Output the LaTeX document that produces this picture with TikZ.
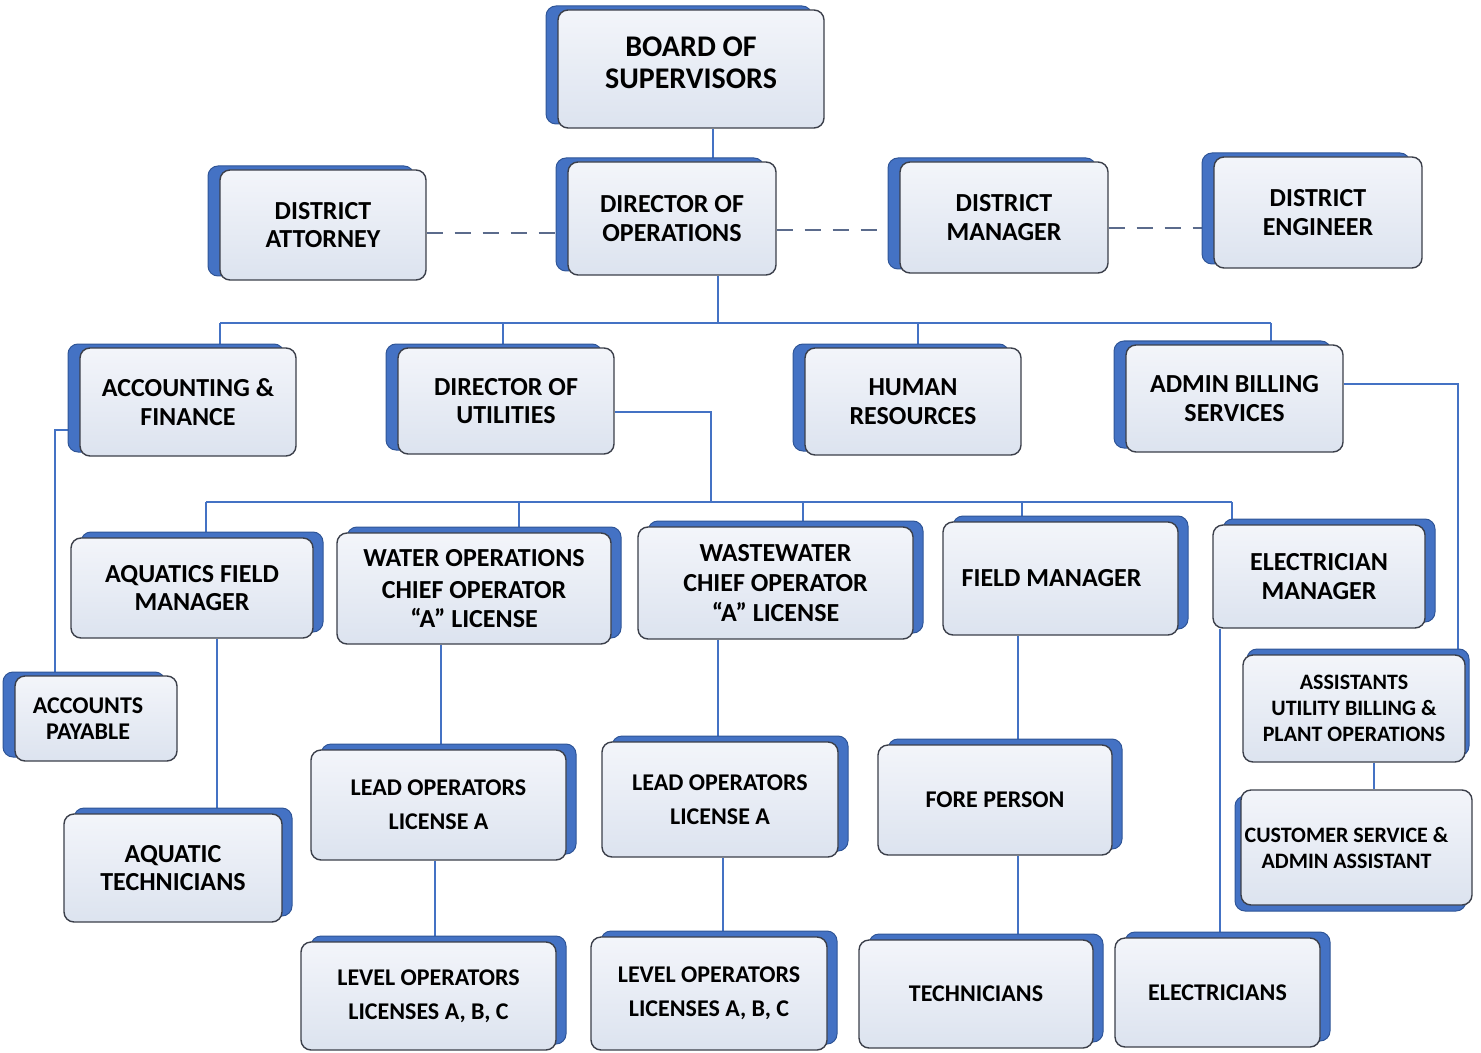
\documentclass[tikz,border=0pt]{standalone}
\usepackage{fontspec}
\setmainfont{Carlito}
\usetikzlibrary{shadows,backgrounds}
\definecolor{bl}{HTML}{4472C4}
\definecolor{bldk}{HTML}{2F5597}
\definecolor{edge}{HTML}{3B3F4A}
\definecolor{boxtop}{HTML}{F3F5FA}
\definecolor{boxbot}{HTML}{DCE3EF}
\definecolor{dashc}{HTML}{5B6B8C}
\tikzset{
  box/.style={draw=edge, line width=0.7pt, rounded corners=5pt, top color=boxtop, bottom color=boxbot,
    align=center, inner sep=0pt, font=\bfseries},
  sl/.style={copy shadow={shadow xshift=-6pt, shadow yshift=2pt, fill=bl, draw=bldk, line width=0.5pt}},
  sr/.style={copy shadow={shadow xshift=5pt, shadow yshift=3pt, fill=bl, draw=bldk, line width=0.5pt}},
  su/.style={copy shadow={shadow xshift=2pt, shadow yshift=3pt, fill=bl, draw=bldk, line width=0.5pt}},
  sd/.style={copy shadow={shadow xshift=-3pt, shadow yshift=-3pt, fill=bl, draw=bldk, line width=0.5pt}},
  fbig/.style={font=\fontsize{15}{16}\selectfont\bfseries},
  fmid/.style={font=\fontsize{13}{14.2}\selectfont\bfseries},
  fsm/.style={font=\fontsize{12}{13}\selectfont\bfseries},
  fxs/.style={font=\fontsize{11}{13}\selectfont\bfseries},
  conn/.style={draw=bl, line width=1pt},
  dsh/.style={draw=dashc, line width=0.6pt, dash pattern=on 8pt off 6pt},
}
\begin{document}
\begin{tikzpicture}[x=0.5pt,y=-0.5pt]
\useasboundingbox (0,0) rectangle (1481,1053);
% row 1
\node[box,sl,fbig,minimum width=133pt,minimum height=59pt,text depth=6pt] (board) at (691,69) {BOARD OF\\SUPERVISORS};
% row 2
\node[box,sl,fmid,minimum width=103pt,minimum height=55pt] (da) at (323,225) {DISTRICT\\ATTORNEY};
\node[box,sl,fmid,minimum width=104pt,minimum height=56.5pt] (dops) at (672,218.5) {DIRECTOR OF\\OPERATIONS};
\node[box,sl,fmid,minimum width=104pt,minimum height=55.5pt] (dm) at (1004,217.5) {DISTRICT\\MANAGER};
\node[box,sl,fmid,minimum width=104pt,minimum height=55.5pt] (de) at (1318,212.5) {DISTRICT\\ENGINEER};
% row 3
\node[box,sl,fmid,minimum width=108pt,minimum height=54pt] (acc) at (188,402) {ACCOUNTING \&\\FINANCE};
\node[box,sl,fmid,minimum width=108pt,minimum height=53pt] (dut) at (506,401) {DIRECTOR OF\\UTILITIES};
\node[box,sl,fmid,minimum width=108pt,minimum height=53.5pt] (hr) at (913,401.5) {HUMAN\\RESOURCES};
\node[box,sl,fmid,minimum width=108.5pt,minimum height=53.5pt] (admin) at (1234.5,398.5) {ADMIN BILLING\\SERVICES};
% row 4
\node[box,sr,fmid,minimum width=121pt,minimum height=50pt] (aqfm) at (192,588) {AQUATICS FIELD\\MANAGER};
\node[box,sr,fmid,minimum width=137pt,minimum height=55.5pt] (water) at (474,588.5) {WATER OPERATIONS\\[2pt]CHIEF OPERATOR\\“A” LICENSE};
\node[box,sr,fmid,minimum width=137.5pt,minimum height=56pt] (waste) at (775.5,583) {WASTEWATER\\[1pt]CHIEF OPERATOR\\[1pt]“A” LICENSE};
\node[box,sr,fmid,minimum width=117.5pt,minimum height=56.5pt] (fm) at (1060.5,578.5) {\hspace*{-9pt}FIELD MANAGER};
\node[box,sr,fmid,minimum width=106pt,minimum height=51.5pt] (em) at (1319,576.5) {ELECTRICIAN\\MANAGER};
% left column
\node[box,sl,fsm,minimum width=81pt,minimum height=42.5pt] (ap) at (96,718.5) {\hspace*{-8pt}ACCOUNTS\\\hspace*{-8pt}PAYABLE};
\node[box,sr,fmid,minimum width=109pt,minimum height=54pt] (aqt) at (173,868) {AQUATIC\\TECHNICIANS};
% right column
\node[box,su,fxs,minimum width=111pt,minimum height=53.5pt] (asst) at (1354,708.5) {ASSISTANTS\\UTILITY BILLING \&\\PLANT OPERATIONS};
\node[box,sd,fxs,minimum width=115.5pt,minimum height=57.5pt] (cs) at (1356.5,847.5) {\hspace*{-10pt}CUSTOMER SERVICE \&\\\hspace*{-10pt}ADMIN ASSISTANT};
% row 5
\node[box,sr,fsm,minimum width=127.5pt,minimum height=55pt] (lead1) at (438.5,805) {LEAD OPERATORS\\[4pt]LICENSE A};
\node[box,sr,fsm,minimum width=118pt,minimum height=57.5pt] (lead2) at (720,799.5) {LEAD OPERATORS\\[4pt]LICENSE A};
\node[box,sr,fsm,minimum width=117pt,minimum height=55pt] (fore) at (995,800) {FORE PERSON};
% row 6
\node[box,sr,fsm,minimum width=127.5pt,minimum height=54pt] (lvl1) at (428.5,996) {LEVEL OPERATORS\\[4pt]LICENSES A, B, C};
\node[box,sr,fsm,minimum width=118pt,minimum height=56.5pt] (lvl2) at (709,993.5) {LEVEL OPERATORS\\[4pt]LICENSES A, B, C};
\node[box,sr,fsm,minimum width=117pt,minimum height=54pt] (tech) at (976,994) {TECHNICIANS};
\node[box,sr,fsm,minimum width=102.5pt,minimum height=54.5pt] (elec) at (1217.5,992.5) {ELECTRICIANS};

\begin{pgfonlayer}{background}
% reference coordinates
\coordinate (xa) at (713,0);
\coordinate (xb) at (718,0);
\coordinate (ya) at (0,233);
\coordinate (yb) at (0,230);
\coordinate (yc) at (0,228);
\coordinate (bus1) at (718,323);
\coordinate (b1a) at (220,323);
\coordinate (b1b) at (503,323);
\coordinate (b1c) at (918,323);
\coordinate (b1d) at (1271,323);
\coordinate (kacc) at (55,430);
\coordinate (kadm) at (1458,384);
\coordinate (kdut) at (711,412);
\coordinate (bus2) at (711,502);
\coordinate (b2a) at (206,502);
\coordinate (b2b) at (519,502);
\coordinate (b2c) at (803,502);
\coordinate (b2d) at (1022,502);
\coordinate (b2e) at (1232,502);
% board to director
\draw[conn] (board.south -| xa) -- (dops.north -| xa);
% dashed staff lines
\draw[dsh] (da.east |- ya) -- (dops.west |- ya);
\draw[dsh] (dops.east |- yb) -- (dm.west |- yb);
\draw[dsh] (dm.east |- yc) -- (de.west |- yc);
% first bus
\draw[conn] (dops.south -| xb) -- (bus1);
\draw[conn] (b1a) -- (b1d);
\draw[conn] (b1a) -- (acc.north -| b1a);
\draw[conn] (b1b) -- (dut.north -| b1b);
\draw[conn] (b1c) -- (hr.north -| b1c);
\draw[conn] (b1d) -- (admin.north -| b1d);
% side links
\draw[conn] (acc.west |- kacc) -- (kacc) -- (ap.north -| kacc);
\draw[conn] (admin.east |- kadm) -- (kadm) -- (asst.north -| kadm);
\draw[conn] (dut.east |- kdut) -- (kdut) -- (bus2);
% second bus
\draw[conn] (b2a) -- (b2e);
\draw[conn] (b2a) -- (aqfm.north -| b2a);
\draw[conn] (b2b) -- (water.north -| b2b);
\draw[conn] (b2c) -- (waste.north -| b2c);
\draw[conn] (b2d) -- (fm.north -| b2d);
\draw[conn] (b2e) -- (em.north -| b2e);
% columns
\coordinate (c1) at (217,0);
\coordinate (c2) at (441,0);
\coordinate (c3) at (435,0);
\coordinate (c4) at (718,0);
\coordinate (c5) at (723,0);
\coordinate (c6) at (1018,0);
\coordinate (c7) at (1220,0);
\coordinate (c8) at (1374,0);
\draw[conn] (aqfm.south -| c1) -- (aqt.north -| c1);
\draw[conn] (water.south -| c2) -- (lead1.north -| c2);
\draw[conn] (lead1.south -| c3) -- (lvl1.north -| c3);
\draw[conn] (waste.south -| c4) -- (lead2.north -| c4);
\draw[conn] (lead2.south -| c5) -- (lvl2.north -| c5);
\draw[conn] (fm.south -| c6) -- (fore.north -| c6);
\draw[conn] (fore.south -| c6) -- (tech.north -| c6);
\draw[conn] (em.south -| c7) -- (elec.north -| c7);
\draw[conn] (asst.south -| c8) -- (cs.north -| c8);
\end{pgfonlayer}
\end{tikzpicture}
\end{document}
